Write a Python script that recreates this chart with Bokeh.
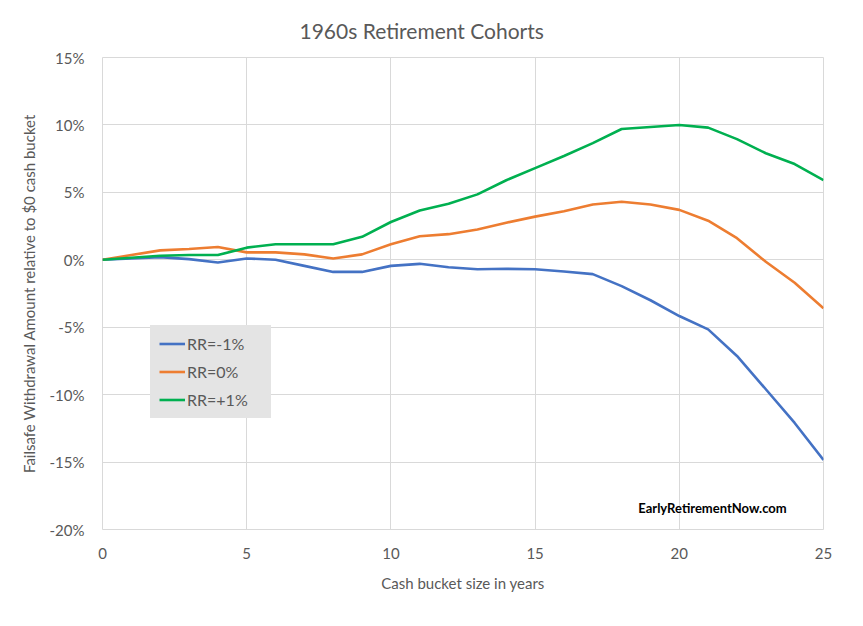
from bokeh.plotting import figure
from bokeh.models import FixedTicker, PrintfTickFormatter, Legend, LegendItem, Label, Title
from bokeh.embed import file_html
from bokeh.resources import INLINE

# cash bucket size in years
years = list(range(26))

# failsafe withdrawal change vs $0 cash bucket, in percent
rr_minus1 = [0.0, 0.1, 0.2, 0.05, -0.2, 0.1, 0.0, -0.45, -0.9, -0.9, -0.45, -0.3, -0.55,
             -0.7, -0.67, -0.7, -0.87, -1.06, -1.95, -3.0, -4.17, -5.16, -7.13, -9.6, -12.1, -14.85]
rr_zero = [0.0, 0.35, 0.7, 0.8, 0.95, 0.55, 0.55, 0.4, 0.1, 0.4, 1.15, 1.75, 1.9,
           2.25, 2.75, 3.2, 3.6, 4.1, 4.3, 4.1, 3.7, 2.9, 1.6, -0.15, -1.7, -3.6]
rr_plus1 = [0.0, 0.15, 0.3, 0.35, 0.35, 0.9, 1.15, 1.15, 1.15, 1.7, 2.8, 3.65, 4.15,
            4.85, 5.9, 6.8, 7.7, 8.65, 9.7, 9.85, 10.0, 9.8, 8.95, 7.9, 7.1, 5.9]

x_ticks = [0, 5, 10, 15, 20, 25]
y_ticks = [-20, -15, -10, -5, 0, 5, 10, 15]

FONT = "Lato"
GREY = "#595959"
GRID = "#d9d9d9"

p = figure(width=847, height=610, x_range=(0, 25), y_range=(-20, 15),
           output_backend="svg", toolbar_location=None,
           min_border_left=102, min_border_right=24, min_border_top=57, min_border_bottom=81)
p.title = None
p.add_layout(Title(text="1960s Retirement Cohorts", align="left", offset=197,
                   text_font=FONT, text_font_size="21px", text_font_style="normal",
                   text_color=GREY, standoff=29), "above")

p.outline_line_color = GRID
p.background_fill_color = "white"

for ax in (p.xaxis, p.yaxis):
    ax.axis_line_color = None
    ax.major_tick_line_color = None
    ax.minor_tick_line_color = None
    ax.major_label_text_font = FONT
    ax.major_label_text_font_size = "15px"
    ax.major_label_text_color = GREY
    ax.axis_label_text_font = FONT
    ax.axis_label_text_font_size = "15px"
    ax.axis_label_text_font_style = "normal"
    ax.axis_label_text_color = GREY

p.xaxis.ticker = FixedTicker(ticks=x_ticks)
p.yaxis.ticker = FixedTicker(ticks=y_ticks)
p.yaxis.formatter = PrintfTickFormatter(format="%d%%")
p.xaxis.major_label_standoff = 12
p.yaxis.major_label_standoff = 12
p.xaxis.axis_label = "Cash bucket size in years"
p.yaxis.axis_label = "Failsafe Withdrawal Amount relative to $0 cash bucket"
p.xaxis.axis_label_standoff = 12
p.yaxis.axis_label_standoff = 9

p.grid.grid_line_color = GRID
p.grid.grid_line_width = 1

r1 = p.line(years, rr_minus1, line_color="#4472C4", line_width=2.6)
r2 = p.line(years, rr_zero, line_color="#ED7D31", line_width=2.6)
r3 = p.line(years, rr_plus1, line_color="#00B050", line_width=2.6)

legend = Legend(items=[LegendItem(label="RR=-1%", renderers=[r1]),
                       LegendItem(label="RR=0%", renderers=[r2]),
                       LegendItem(label="RR=+1%", renderers=[r3])],
                location=(48, 111), orientation="vertical",
                background_fill_color="#e4e4e4", background_fill_alpha=1.0,
                border_line_color="#e4e4e4", padding=8, margin=0, spacing=9,
                glyph_width=26, glyph_height=19, label_height=19, label_width=75,
                label_standoff=2,
                label_text_font=FONT, label_text_font_size="16px", label_text_color=GREY)
p.add_layout(legend, "center")

p.add_layout(Label(x=21.15, y=-18.4, text="EarlyRetirementNow.com", text_align="center",
                   text_baseline="middle", text_font=FONT, text_font_size="13px",
                   text_font_style="bold", text_color="black"))

open("out.html", "w").write(file_html(p, INLINE))
